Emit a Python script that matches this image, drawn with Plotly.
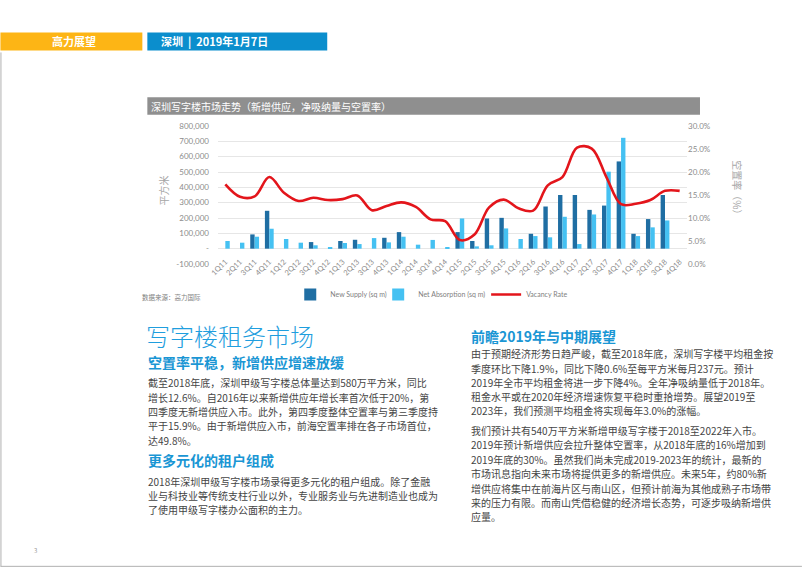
import plotly.graph_objects as go

# ---------------- data ----------------
quarters = ["1Q11", "2Q11", "3Q11", "4Q11", "1Q12", "2Q12", "3Q12", "4Q12",
            "1Q13", "2Q13", "3Q13", "4Q13", "1Q14", "2Q14", "3Q14", "4Q14",
            "1Q15", "2Q15", "3Q15", "4Q15", "1Q16", "2Q16", "3Q16", "4Q16",
            "1Q17", "2Q17", "3Q17", "4Q17", "1Q18", "2Q18", "3Q18", "4Q18"]

new_supply = [0, 0, 93000, 247000, 0, 0, 43000, 0,
              50000, 58000, 0, 71000, 108000, 0, 0, 0,
              108000, 50000, 197000, 201000, 0, 97000, 275000, 350000,
              350000, 253000, 281000, 569000, 97000, 193000, 350000, 0]

net_absorption = [50000, 39000, 78000, 130000, 63000, 39000, 22000, 10000,
                  37000, 30000, 69000, 41000, 78000, 26000, 57000, 9000,
                  197000, 15000, 22000, 132000, 63000, 82000, 74000, 208000,
                  30000, 223000, 502000, 723000, 82000, 139000, 184000, 0]

vacancy_rate = [17.3, 14.6, 14.7, 18.9, 15.5, 13.7, 14.4, 13.9,
                14.1, 14.9, 11.7, 12.6, 13.4, 12.4, 9.7, 9.3,
                5.2, 6.4, 12.3, 14.0, 12.1, 11.6, 17.1, 18.9,
                25.3, 25.1, 18.9, 13.0, 13.1, 13.9, 15.9, 15.9]

left_ticks = [-100000, 0, 100000, 200000, 300000, 400000, 500000, 600000, 700000, 800000]
left_ticktext = ["-100,000", "-", "100,000", "200,000", "300,000", "400,000",
                 "500,000", "600,000", "700,000", "800,000"]
right_ticks = [0, 5, 10, 15, 20, 25, 30]
right_ticktext = ["0.0%", "5.0%", "10.0%", "15.0%", "20.0%", "25.0%", "30.0%"]

header_left = "高力展望"
header_right = "深圳  |  2019年1月7日"
chart_title = "深圳写字楼市场走势（新增供应，净吸纳量与空置率）"
source_note = "数据来源：高力国际"
y_title_left = "平方米"
y_title_right = "空置率（%）"

section_title = "写字楼租务市场"
sub1 = "空置率平稳，新增供应增速放缓"
para1 = ["截至2018年底，深圳甲级写字楼总体量达到580万平方米，同比",
         "增长12.6%。自2016年以来新增供应年增长率首次低于20%，第",
         "四季度无新增供应入市。此外，第四季度整体空置率与第三季度持",
         "平于15.9%。由于新增供应入市，前海空置率排在各子市场首位，",
         "达49.8%。"]
sub2 = "更多元化的租户组成"
para2 = ["2018年深圳甲级写字楼市场录得更多元化的租户组成。除了金融",
         "业与科技业等传统支柱行业以外，专业服务业与先进制造业也成为",
         "了使用甲级写字楼办公面积的主力。"]
sub3 = "前瞻2019年与中期展望"
para3 = ["由于预期经济形势日趋严峻，截至2018年底，深圳写字楼平均租金按",
         "季度环比下降1.9%，同比下降0.6%至每平方米每月237元。预计",
         "2019年全市平均租金将进一步下降4%。全年净吸纳量低于2018年。",
         "租金水平或在2020年经济增速恢复平稳时重拾增势。展望2019至",
         "2023年，我们预测平均租金将实现每年3.0%的涨幅。"]
para4 = ["我们预计共有540万平方米新增甲级写字楼于2018至2022年入市。",
         "2019年预计新增供应会拉升整体空置率，从2018年底的16%增加到",
         "2019年底的30%。虽然我们尚未完成2019-2023年的统计，最新的",
         "市场讯息指向未来市场将提供更多的新增供应。未来5年，约80%新",
         "增供应将集中在前海片区与南山区，但预计前海为其他成熟子市场带",
         "来的压力有限。而南山凭借稳健的经济增长态势，可逐步吸纳新增供",
         "应量。"]
page_number = "3"

# ---------------- layout helpers (pixel -> paper) ----------------
W, H = 802, 568
L, R, T, B = 217.7, 687.0, 125.7, 264.0


def px(x):
    return (x - L) / (R - L)


def py(y):
    return (B - y) / (B - T)


CJK = "Noto Sans CJK SC"
LAT = "Lato, 'Noto Sans', sans-serif"
GRAY = "#8c8c8c"
TEXT = "#454545"
BLUE_HEAD = "#1a96d4"

fig = go.Figure()
fig.add_trace(go.Bar(x=quarters, y=new_supply, name="New Supply (sq m)", legend="legend",
                     marker=dict(color="#1f6ea3", line=dict(width=0))))
fig.add_trace(go.Bar(x=quarters, y=net_absorption, name="Net Absorption (sq m)", legend="legend2",
                     marker=dict(color="#45c1f2", line=dict(width=0))))
fig.add_trace(go.Scatter(x=quarters, y=vacancy_rate, name="Vacancy Rate", yaxis="y2",
                         legend="legend3", mode="lines",
                         line=dict(color="#e3151b", width=2.6, shape="spline", smoothing=1.0)))

shapes = []
annotations = []


def rect(x0, y0, x1, y1, color):
    shapes.append(dict(type="rect", xref="paper", yref="paper",
                       x0=px(x0), x1=px(x1), y0=py(y1), y1=py(y0),
                       fillcolor=color, line=dict(width=0), layer="below"))


def text(x, y, s, size, color, family=CJK, anchor="left", weight=None, angle=0):
    f = dict(family=family, size=size, color=color)
    if weight is not None:
        f["weight"] = weight
    annotations.append(dict(x=px(x), y=py(y), xref="paper", yref="paper", text=s,
                            showarrow=False, xanchor=anchor, yanchor="middle",
                            font=f, textangle=angle, borderpad=0))


# header bars
rect(0, 32, 142, 50, "#fdb515")
rect(147, 32, 327, 50, "#0b8ecd")
text(74, 41, header_left, 11, "white", anchor="center", weight="bold")
text(160, 41, header_right, 11, "white", weight="bold")

# chart title bar
rect(147, 97, 700, 114.5, "#8f8f8f")
text(150, 106, chart_title, 10, "white")

# axis titles
text(163, 190, y_title_left, 10, "#a6a6a6", anchor="center", angle=-90)
text(738, 190, y_title_right, 10, "#a6a6a6", anchor="center", angle=90)

# source
text(141, 297, source_note, 6.5, "#7f7f7f")

# left column
text(145, 336, section_title, 24, "#1f9ede", weight=300)
text(147, 362, sub1, 14, BLUE_HEAD, weight="bold")
for i, line in enumerate(para1):
    text(147, 383 + i * 14.4, line, 10, TEXT)
text(147, 460, sub2, 14, BLUE_HEAD, weight="bold")
for i, line in enumerate(para2):
    text(147, 481.5 + i * 14.5, line, 10, TEXT)

# right column
text(470, 336, sub3, 14, BLUE_HEAD, weight="bold")
for i, line in enumerate(para3):
    text(470, 354 + i * 14.3, line, 10, TEXT)
for i, line in enumerate(para4):
    text(470, 430.5 + i * 14.5, line, 10, TEXT)

# page number and border
text(35, 551, page_number, 6, "#999999", anchor="center")
shapes.append(dict(type="line", xref="paper", yref="paper", x0=px(0.5), x1=px(0.5),
                   y0=py(52), y1=py(567), line=dict(color="#b0b0b0", width=1)))
shapes.append(dict(type="line", xref="paper", yref="paper", x0=px(0), x1=px(802),
                   y0=py(567), y1=py(567), line=dict(color="#b0b0b0", width=1)))

legend_font = dict(family=LAT, size=7, color="#7f7f7f")


def legend_at(xpix):
    return dict(orientation="h", x=px(xpix), y=py(280), xanchor="left", yanchor="top",
                font=legend_font, itemwidth=30, bgcolor="rgba(0,0,0,0)")


fig.update_layout(
    width=W, height=H,
    margin=dict(l=L, r=W - R, t=T, b=H - B, autoexpand=False),
    paper_bgcolor="white", plot_bgcolor="white",
    barmode="group", bargap=0.4, bargroupgap=0.0,
    showlegend=True,
    legend=legend_at(290),
    legend2=legend_at(378),
    legend3=legend_at(486),
    xaxis=dict(type="category", tickangle=-45, showgrid=False, zeroline=False,
               showline=False, ticks="", ticklabelstandoff=-9,
               tickfont=dict(family=LAT, size=7.5, color=GRAY)),
    yaxis=dict(range=[-100000, 800000], tickvals=left_ticks, ticktext=left_ticktext,
               showgrid=True, gridcolor="#e6e6e6", gridwidth=1, zeroline=False,
               showline=False, ticks="", ticklabelstandoff=8,
               tickfont=dict(family=LAT, size=8, color=GRAY)),
    yaxis2=dict(range=[0, 30], tickvals=right_ticks, ticktext=right_ticktext,
                overlaying="y", side="right", showgrid=False, zeroline=False,
                showline=False, ticks="",
                tickfont=dict(family=LAT, size=8, color=GRAY)),
    shapes=shapes,
    annotations=annotations,
)

fig.write_html("out.html", config={"displayModeBar": False},
               post_script="document.body.style.margin='0px';document.body.style.overflow='hidden';")
